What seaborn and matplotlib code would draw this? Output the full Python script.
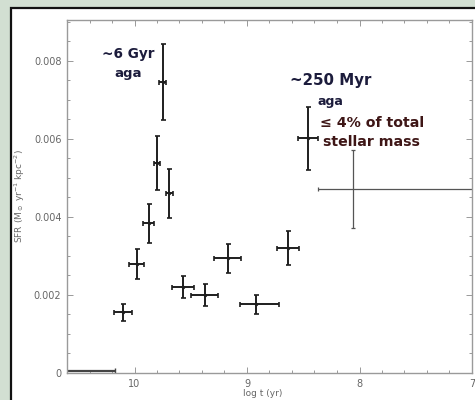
import matplotlib
matplotlib.use("Agg")
import matplotlib.pyplot as plt
import seaborn as sns
import numpy as np
import pandas as pd
from matplotlib.patches import Rectangle

# ---- data ----
log_t = [10.10, 9.98, 9.875, 9.80, 9.75, 9.69, 9.57, 9.375, 9.17, 8.92, 8.64, 8.46]
sfr = [0.00156, 0.00279, 0.00384, 0.00538, 0.00746, 0.00461, 0.00220, 0.00199, 0.00294, 0.00176, 0.00320, 0.00602]
sfr_err = [0.00022, 0.00038, 0.00050, 0.00070, 0.00098, 0.00063, 0.00028, 0.00028, 0.00038, 0.00024, 0.00044, 0.00081]
# horizontal half-widths: toward older ages (left) and younger ages (right)
t_err_old = [0.08, 0.065, 0.05, 0.03, 0.03, 0.03, 0.10, 0.12, 0.12, 0.14, 0.09, 0.09]
t_err_young = [0.08, 0.065, 0.05, 0.03, 0.03, 0.03, 0.10, 0.12, 0.12, 0.20, 0.10, 0.09]

# wide, lighter bin
wide_t = [8.06]
wide_sfr = [0.00471]
wide_sfr_err = [0.00100]
wide_t_old = [0.31]
wide_t_young = [1.10]

# lower-limit bin at the bottom
lim_t = [10.17]
lim_sfr = [0.00005]
lim_t_old = [0.50]

y_ticks = [0, 0.002, 0.004, 0.006, 0.008]
y_tick_labels = ["0", "0.002", "0.004", "0.006", "0.008"]
x_ticks = [10, 9, 8, 7]
x_tick_labels = ["10", "9", "8", "7"]

df = pd.DataFrame({"log_t": log_t, "sfr": sfr})

sns.set_theme(style="ticks")
plt.rcParams["font.family"] = ["DejaVu Sans"]

W, H = 475, 400
fig = plt.figure(figsize=(W / 100, H / 100), dpi=100)
fig.patch.set_facecolor("#d2dfd2")

# white panel with dark border on left/top
panel = Rectangle((11 / W, -0.01), 1.0, 1 - 8 / H + 0.01, transform=fig.transFigure,
                  facecolor="white", edgecolor="#111111", linewidth=1.6, zorder=-5)
fig.patches.append(panel)

ax = fig.add_axes([67 / W, 1 - 373 / H, (472 - 67) / W, (373 - 20) / H])
ax.set_zorder(2)
ax.set_facecolor("white")

ink = "#1e1e1e"
# x axis is reversed: "+" error goes to older ages (left)
ax.errorbar(log_t, sfr, yerr=sfr_err, xerr=[t_err_young, t_err_old], fmt="none",
            ecolor=ink, elinewidth=1.4, capsize=1.8, capthick=1.2)
ax.errorbar(wide_t, wide_sfr, yerr=wide_sfr_err, xerr=[wide_t_young, wide_t_old], fmt="none",
            ecolor="#555555", elinewidth=0.9, capsize=1.6, capthick=0.9)
ax.errorbar(lim_t, lim_sfr, xerr=[[0], lim_t_old], fmt="none",
            ecolor="#444444", elinewidth=1.6, capsize=2.0, capthick=1.0)
sns.scatterplot(data=df, x="log_t", y="sfr", ax=ax, marker="o", s=6,
                color=ink, edgecolor=ink, linewidth=0, legend=False, zorder=3)

ax.set_xlim(10.6, 7.0)
ax.set_ylim(0, 0.00905)
ax.set_xticks(x_ticks)
ax.set_xticklabels(x_tick_labels)
ax.set_yticks(y_ticks)
ax.set_yticklabels(y_tick_labels)
ax.set_xticks(np.arange(10.6, 6.99, -0.2), minor=True)
ax.set_yticks(np.arange(0, 0.0091, 0.0005), minor=True)
ax.tick_params(which="both", direction="in", top=True, right=True, colors="#999999",
               labelcolor="#666666", labelsize=7, width=0.7)
ax.tick_params(which="major", length=4, pad=4)
ax.tick_params(which="minor", length=2)
for s in ax.spines.values():
    s.set_color("#9a9a9a")
    s.set_linewidth(1.0)

ax.set_ylabel("SFR (M$_\\odot$ yr$^{-1}$ kpc$^{-2}$)", fontsize=6.5, color="#666666")
ax.yaxis.set_label_coords((27 - 67) / (472 - 67), 0.5)
ax.set_xlabel("")
fig.text(263 / W, 1 - 394 / H, "log t (yr)", fontsize=6.5, color="#666666", ha="center", va="center")

navy = "#1c1c3c"
maroon = "#3e1616"
fig.text(128 / W, 1 - 54 / H, "~6 Gyr", fontsize=9.8, fontweight="bold", color=navy, ha="center", va="center", zorder=5)
fig.text(128 / W, 1 - 73 / H, "aga", fontsize=9.5, fontweight="bold", color=navy, ha="center", va="center", zorder=5)
fig.text(290 / W, 1 - 81 / H, "~250 Myr", fontsize=10.8, fontweight="bold", color=navy, ha="left", va="center", zorder=5)
fig.text(318 / W, 1 - 101 / H, "aga", fontsize=9, fontweight="bold", color=navy, ha="left", va="center", zorder=5)
fig.text(320 / W, 1 - 123 / H, "\u2264 4% of total", fontsize=10.2, fontweight="bold", color=maroon, ha="left", va="center", zorder=5)
fig.text(323 / W, 1 - 142 / H, "stellar mass", fontsize=10.2, fontweight="bold", color=maroon, ha="left", va="center", zorder=5)

fig.savefig("out.png", dpi=100, facecolor=fig.get_facecolor())
